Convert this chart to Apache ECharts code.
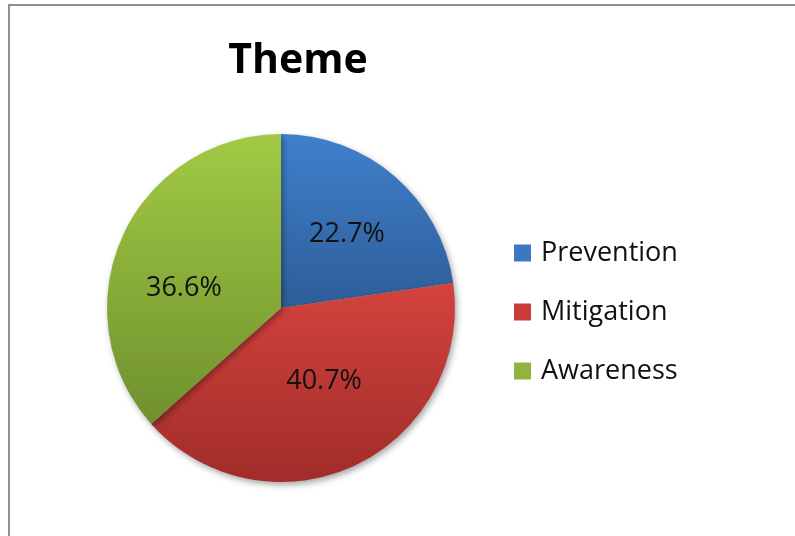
<!DOCTYPE html>
<html>
<head>
<meta charset="utf-8">
<script src="https://cdn.jsdelivr.net/npm/echarts@6/dist/echarts.min.js"></script>
<style>
html,body{margin:0;padding:0;background:#fff;}
#chart{width:795px;height:536px;}
</style>
</head>
<body>
<div id="chart"></div>
<script>
const categories = ['Prevention', 'Mitigation', 'Awareness'];
const values = [22.7, 40.7, 36.6];
const titleText = 'Theme';

const gradients = [
  ['#3f80cc', '#2e5d98'],
  ['#d4433d', '#a02c29'],
  ['#a2ca44', '#6f902e']
];
const legendColors = ['#3b78c2', '#c83d38', '#8fb53e'];
const labelOffsets = [[7, -6], [5, -8], [-15, 17]];
const FONT = 'Open Sans';

const chart = echarts.init(document.getElementById('chart'));
chart.setOption({
  animation: false,
  title: {
    text: titleText,
    left: 298,
    top: 41,
    padding: 0,
    textAlign: 'center',
    textStyle: { fontFamily: FONT, fontWeight: 'bold', fontSize: 41, color: '#000' }
  },
  legend: {
    orient: 'vertical',
    left: 514,
    top: 238,
    padding: 0,
    itemWidth: 17,
    itemHeight: 17,
    itemGap: 29,
    icon: 'rect',
    textStyle: { fontFamily: FONT, fontSize: 27, color: '#111', lineHeight: 30, padding: [0, 0, 0, 5] },
    data: categories.map((c, i) => ({ name: c, itemStyle: { color: legendColors[i] } }))
  },
  graphic: [{
    type: 'polyline',
    shape: { points: [[9, 540], [9, 5], [800, 5]] },
    style: { stroke: '#8e8e8e', lineWidth: 2, fill: null },
    silent: true
  }],
  series: [{
    type: 'pie',
    center: [281, 308],
    radius: [0, 174],
    startAngle: 90,
    clockwise: true,
    label: {
      show: true,
      position: 'inside',
      formatter: p => p.value.toFixed(1) + '%',
      fontFamily: FONT,
      fontSize: 27,
      color: '#111'
    },
    labelLine: { show: false },
    itemStyle: { borderWidth: 0, shadowBlur: 6, shadowColor: 'rgba(0,0,0,0.35)', shadowOffsetX: 2, shadowOffsetY: 3 },
    emphasis: { disabled: true },
    data: categories.map((c, i) => ({
      name: c,
      value: values[i],
      label: { offset: labelOffsets[i] },
      itemStyle: {
        color: new echarts.graphic.LinearGradient(0, 0, 0, 1, [
          { offset: 0, color: gradients[i][0] },
          { offset: 1, color: gradients[i][1] }
        ])
      }
    }))
  }]
});
</script>
</body>
</html>
